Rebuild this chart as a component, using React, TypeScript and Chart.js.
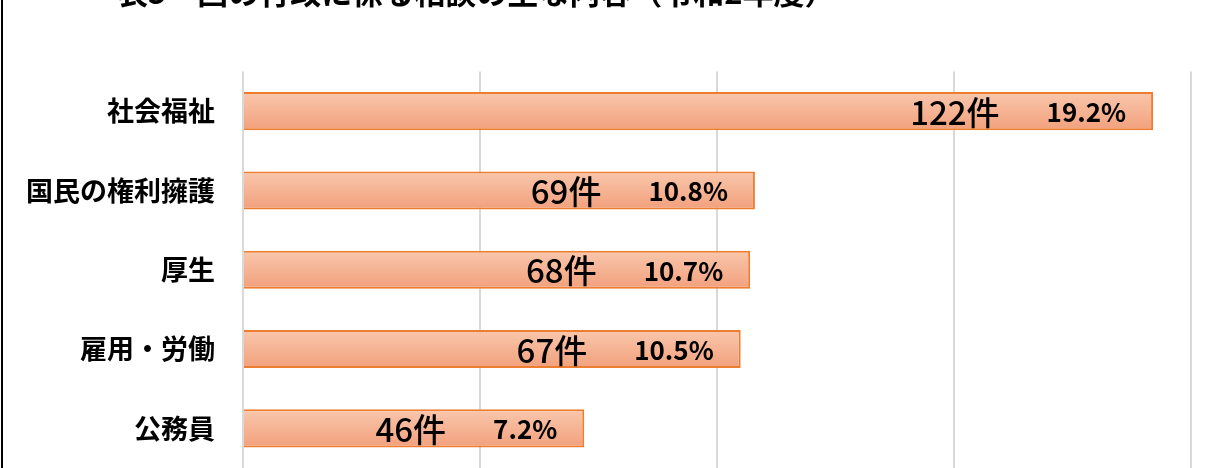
import React, { useEffect, useRef } from "react";
import { Chart, registerables } from "chart.js";

Chart.register(...registerables);

const categories = ["社会福祉", "国民の権利擁護", "厚生", "雇用・労働", "公務員"];
const counts = [122, 69, 68, 67, 46];
const percents = [19.2, 10.8, 10.7, 10.5, 7.2];
const xMin = 0;
const xMax = 20;
const xStep = 5;
const titleText = "表5　国の行政に係る相談の主な内容（令和2年度）";

const FONT = "'Noto Sans CJK JP', 'Noto Sans', sans-serif";
const SHIFT = 40; // portion of the canvas hidden above the viewport

const overlayPlugin = {
  id: "overlay",
  afterDatasetsDraw(chart: any) {
    const ctx = chart.ctx;
    const meta = chart.getDatasetMeta(0);
    ctx.save();
    ctx.fillStyle = "#000";
    ctx.textBaseline = "middle";
    meta.data.forEach((bar: any, i: number) => {
      const end = bar.x;
      const y = bar.y + 1;
      ctx.textAlign = "right";
      ctx.font = `bold 26px ${FONT}`;
      const pctText = `${percents[i].toFixed(1)}%`;
      const pctRight = end - 27;
      ctx.fillText(pctText, pctRight, y);
      const pctW = ctx.measureText(pctText).width;
      ctx.font = `500 33px ${FONT}`;
      ctx.fillText(`${counts[i]}件`, pctRight - pctW - 47, y);
    });
    ctx.restore();
  },
  afterDraw(chart: any) {
    const ctx = chart.ctx;
    ctx.save();
    ctx.fillStyle = "#000";
    ctx.font = `bold 31px ${FONT}`;
    ctx.textAlign = "left";
    ctx.textBaseline = "middle";
    ctx.fillText(titleText, 117, SHIFT - 8);
    ctx.fillRect(1, 0, 2, chart.height);
    ctx.restore();
  },
};

export default function App() {
  const ref = useRef<HTMLCanvasElement | null>(null);

  useEffect(() => {
    if (!ref.current) return;
    const chart = new Chart(ref.current, {
      type: "bar",
      data: {
        labels: categories,
        datasets: [
          {
            data: percents,
            backgroundColor: (c: any) => {
              const ch = c.chart;
              const ys = ch.scales && ch.scales.y;
              if (!ch.chartArea || !ys || c.dataIndex === undefined) return "#F5B394";
              const yc = ys.getPixelForValue(c.dataIndex);
              const g = ch.ctx.createLinearGradient(0, yc - 19, 0, yc + 19);
              g.addColorStop(0, "#F9C7AC");
              g.addColorStop(1, "#F2A07C");
              return g;
            },
            borderColor: "#ED7D31",
            borderWidth: 2,
            categoryPercentage: 1,
            barPercentage: 0.48,
          },
        ],
      },
      options: {
        indexAxis: "y",
        animation: false,
        responsive: false,
        layout: { padding: { top: 71.5 + SHIFT, right: 34, left: 0, bottom: 0 } },
        plugins: { legend: { display: false }, tooltip: { enabled: false }, title: { display: false } },
        scales: {
          x: {
            min: xMin,
            max: xMax,
            ticks: { stepSize: xStep, display: false },
            grid: { color: "#D9D9D9", lineWidth: 2, drawTicks: false },
            border: { display: false },
            afterFit: (s: any) => {
              s.height = 0;
              s.paddingLeft = 0;
              s.paddingRight = 0;
            },
          },
          y: {
            grid: { display: false, drawTicks: false },
            border: { display: false },
            ticks: {
              color: "#000",
              padding: 28,
              font: { family: FONT, size: 27, weight: "bold" },
            },
            afterFit: (s: any) => {
              s.width = 243;
              s.paddingTop = 0;
              s.paddingBottom = 0;
            },
          },
        },
      },
      plugins: [overlayPlugin],
    } as any);
    return () => chart.destroy();
  }, []);

  return (
    <div style={{ position: "fixed", left: 0, top: 0, width: 1225, height: 468, overflow: "hidden", background: "#fff" }}>
      <canvas ref={ref} width={1225} height={468 + SHIFT} style={{ position: "absolute", left: 0, top: -SHIFT }} />
    </div>
  );
}
